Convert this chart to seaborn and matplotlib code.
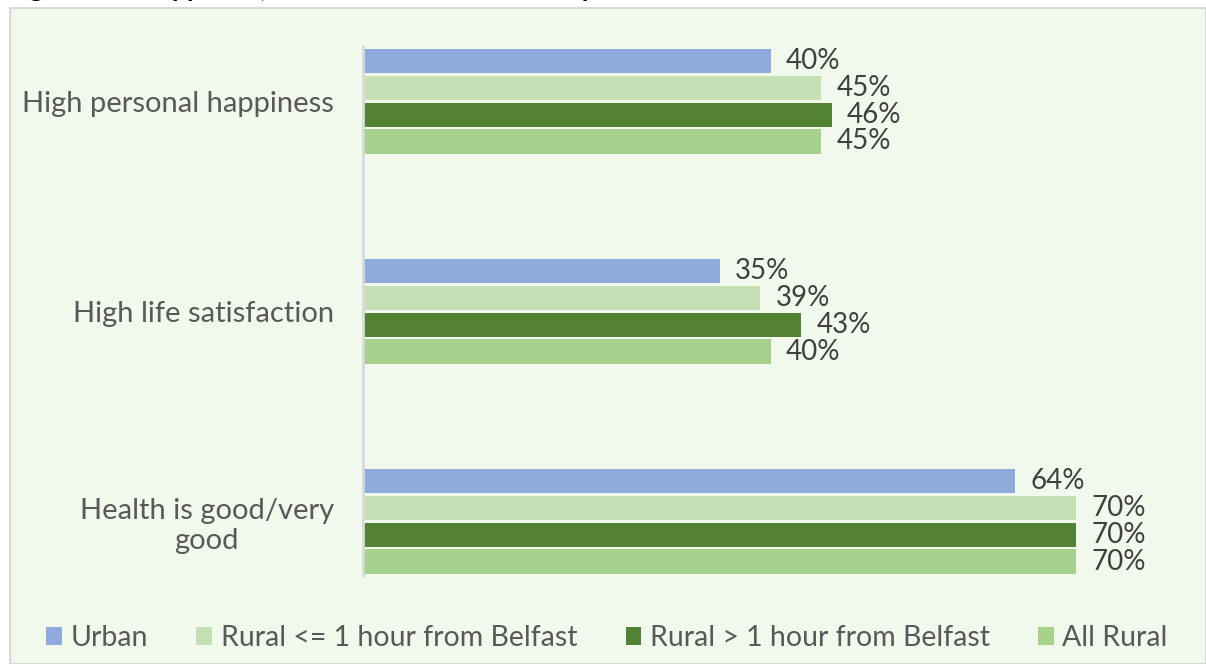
import matplotlib
matplotlib.use("Agg")
import matplotlib.pyplot as plt
import seaborn as sns
import pandas as pd
from matplotlib.patches import Rectangle, Patch

categories = ["High personal happiness", "High life satisfaction", "Health is good/very\ngood"]
groups = ["Urban", "Rural <= 1 hour from Belfast", "Rural > 1 hour from Belfast", "All Rural"]
urban = [40, 35, 64]
rural_near = [45, 39, 70]
rural_far = [46, 43, 70]
all_rural = [45, 40, 70]
colors = ["#8FAADC", "#C5E0B4", "#548235", "#A9D18E"]
title = "Figure 3.1: Happiness, life satisfaction and self-reported health"

rows = []
for g, vals in zip(groups, [urban, rural_near, rural_far, all_rural]):
    for c, v in zip(categories, vals):
        rows.append({"category": c, "group": g, "value": v})
df = pd.DataFrame(rows)

sns.set_theme(style="white")
plt.rcParams["font.family"] = ["Lato", "DejaVu Sans"]

W, H = 1206, 664
fig = plt.figure(figsize=(W / 100, H / 100), dpi=100, facecolor="white")
bg = Rectangle((10 / W, 0), 1 - 10 / W, 1 - 8 / H, transform=fig.transFigure,
               facecolor="#F1F8EC", edgecolor="#D9D9D9", linewidth=1.5, zorder=-5)
fig.patches.append(bg)
fig.text(8 / W, 1.0 + 3 / H, title, fontsize=19, fontweight="bold", color="black",
         va="baseline", ha="left")

ax = fig.add_axes([363 / W, 1 - 575 / H, (1178 - 363) / W, (575 - 46) / H])
ax.set_facecolor("none")
ax.set_zorder(2)
sns.barplot(data=df, y="category", x="value", hue="group", orient="h",
            palette=colors, hue_order=groups, order=categories, saturation=1,
            width=0.514, gap=0.11, linewidth=0, ax=ax, legend=False)

for cont in ax.containers:
    ax.bar_label(cont, fmt="%d%%", padding=11, fontsize=20, color="#404040")

ax.set_xlim(0, 80)
ax.set_ylim(2.257, -0.262)
ax.set_xlabel("")
ax.set_ylabel("")
ax.set_xticks([])
for s in ["top", "right", "bottom"]:
    ax.spines[s].set_visible(False)
ax.spines["left"].set_color("#D9D9D9")
ax.spines["left"].set_linewidth(2)
ax.tick_params(axis="y", length=0, pad=21, labelsize=21, labelcolor="#595959")
for lbl in ax.get_yticklabels():
    lbl.set_multialignment("center")

handles = [Patch(facecolor=c, edgecolor="none") for c in colors]
fig.legend(handles, groups, loc="center", bbox_to_anchor=(607 / W, 1 - 638 / H),
           ncol=4, frameon=False, fontsize=20.5, labelcolor="#595959",
           handlelength=0.55, handleheight=0.6, handletextpad=0.3, columnspacing=1.7)

fig.savefig("out.png", dpi=100, facecolor="white")
